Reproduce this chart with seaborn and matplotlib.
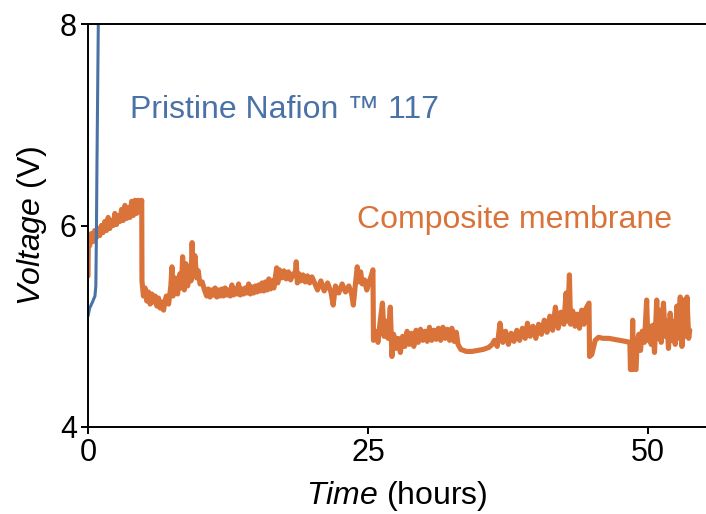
import numpy as np
import pandas as pd
import matplotlib
matplotlib.use("Agg")
import matplotlib.pyplot as plt
import seaborn as sns

# pristine membrane, fails within the first hour
blue_t = [0.0, 0.15, 0.4, 0.62, 0.7, 0.75, 0.8, 0.86, 0.92, 1.0]
blue_v = [5.10, 5.18, 5.24, 5.30, 5.40, 5.90, 6.60, 7.30, 8.00, 8.60]

# composite membrane, read segment by segment
a_t = [0.0, 0.03, 0.15, 0.3, 0.45, 0.6, 0.75, 0.9, 1.05, 1.2, 1.35, 1.5, 1.65, 1.8, 1.95, 2.1, 2.25,
       2.4, 2.55, 2.7, 2.85, 3.0, 3.15, 3.3, 3.45, 3.6, 3.75, 3.9, 4.05, 4.2, 4.35, 4.5, 4.65, 4.8]
a_v = [5.50, 5.86, 5.80, 5.92, 5.84, 5.95, 5.88, 5.97, 5.90, 6.00, 5.93, 6.04, 5.95, 6.08, 5.97, 6.05, 6.00,
       6.12, 6.01, 6.10, 6.04, 6.16, 6.05, 6.20, 6.07, 6.18, 6.08, 6.24, 6.10, 6.25, 6.12, 6.25, 6.14, 6.25]

b_t = [4.82, 4.95, 5.1, 5.25, 5.4, 5.55, 5.7, 5.85, 6.0, 6.15, 6.3, 6.45, 6.6, 6.75, 6.9]
b_v = [5.45, 5.30, 5.38, 5.25, 5.34, 5.22, 5.32, 5.24, 5.30, 5.20, 5.28, 5.18, 5.24, 5.16, 5.26]

c_t = [7.0, 7.2, 7.4, 7.5, 7.6, 7.8, 8.0, 8.2, 8.35, 8.45, 8.6, 8.75, 8.9, 9.05, 9.2, 9.3, 9.4, 9.55,
       9.7, 9.85, 10.0, 10.2, 10.4]
c_v = [5.30, 5.22, 5.40, 5.59, 5.30, 5.48, 5.32, 5.52, 5.38, 5.69, 5.36, 5.62, 5.40, 5.58, 5.45, 5.83, 5.50, 5.70,
       5.48, 5.55, 5.42, 5.44, 5.36]

d_t = [10.6, 10.75, 10.9, 11.05, 11.2, 11.35, 11.5, 11.65, 11.8, 11.95, 12.1, 12.25, 12.4, 12.55,
       12.7, 12.85, 13.0, 13.15, 13.3, 13.45, 13.6, 13.75, 13.9, 14.05, 14.2, 14.35, 14.5, 14.65,
       14.8, 14.95, 15.1, 15.25, 15.4, 15.55, 15.7, 15.85, 16.0, 16.15, 16.3, 16.45, 16.6]
d_v = [5.30, 5.37, 5.29, 5.36, 5.31, 5.38, 5.29, 5.36, 5.30, 5.37, 5.30, 5.38, 5.31, 5.36,
       5.30, 5.41, 5.31, 5.37, 5.32, 5.42, 5.31, 5.37, 5.32, 5.38, 5.33, 5.42, 5.32, 5.39,
       5.33, 5.40, 5.34, 5.41, 5.35, 5.43, 5.35, 5.44, 5.36, 5.47, 5.37, 5.45, 5.38]

e_t = [16.85, 16.95, 17.1, 17.3, 17.5, 17.7, 17.9, 18.1, 18.3, 18.5, 18.6, 18.7, 18.85, 19.0, 19.2, 19.4,
       19.6, 19.8, 20.0]
e_v = [5.58, 5.43, 5.56, 5.48, 5.55, 5.47, 5.54, 5.46, 5.52, 5.50, 5.64, 5.43, 5.52, 5.45, 5.51, 5.44,
       5.50, 5.43, 5.49]

f_t = [20.2, 20.5, 20.8, 21.1, 21.4, 21.7, 21.9, 22.1, 22.4, 22.7, 23.0, 23.3, 23.55, 23.7, 23.85, 24.05,
       24.2, 24.35, 24.5, 24.7, 24.9, 25.1, 25.3, 25.45]
f_v = [5.44, 5.36, 5.45, 5.35, 5.43, 5.34, 5.21, 5.40, 5.33, 5.42, 5.34, 5.40, 5.32, 5.21, 5.38, 5.59,
       5.44, 5.54, 5.42, 5.46, 5.36, 5.44, 5.50, 5.56]

g_t = [25.5, 25.7, 25.9, 26.1, 26.3, 26.45, 26.6, 26.8, 27.0, 27.15, 27.3, 27.5, 27.7, 27.9, 28.1, 28.3,
       28.5, 28.7, 28.9, 29.1, 29.3, 29.5, 29.7, 29.9, 30.1, 30.3, 30.5, 30.7, 30.9, 31.1, 31.3, 31.5,
       31.7, 31.9, 32.1, 32.3, 32.5, 32.7, 32.9, 33.05]
g_v = [4.86, 4.95, 4.84, 5.05, 5.23, 4.90, 5.05, 4.88, 5.19, 4.70, 4.92, 4.78, 4.88, 4.74, 4.90, 4.80,
       4.95, 4.82, 4.93, 4.80, 4.96, 4.84, 4.97, 4.86, 4.95, 4.85, 4.99, 4.86, 4.96, 4.87, 4.98, 4.86,
       4.99, 4.88, 4.97, 4.86, 4.98, 4.85, 4.94, 4.82]

h_t = [33.3, 33.8, 34.3, 34.8, 35.3, 35.8, 36.1]
h_v = [4.77, 4.75, 4.75, 4.76, 4.77, 4.79, 4.82]

i_t = [36.3, 36.55, 36.8, 37.05, 37.3, 37.55, 37.8, 38.05, 38.3, 38.55, 38.8, 39.05, 39.25, 39.5, 39.75,
       40.0, 40.25, 40.5, 40.75, 41.0, 41.25, 41.5, 41.75, 42.0, 42.25, 42.5, 42.7, 42.85, 43.0, 43.1,
       43.3, 43.5, 43.7, 43.9, 44.1, 44.3, 44.5, 44.75]
i_v = [4.86, 4.80, 5.03, 4.84, 4.95, 4.82, 4.93, 4.85, 4.96, 4.86, 4.98, 4.88, 5.03, 4.90, 5.00,
       4.88, 5.02, 4.92, 5.06, 4.94, 5.10, 4.96, 5.19, 4.98, 5.14, 5.02, 5.33, 5.05, 5.51, 5.02,
       5.15, 5.00, 5.12, 4.98, 5.16, 5.02, 5.18, 5.23]

j_t = [44.8, 45.0, 45.3, 45.6, 46.0, 46.5, 47.0, 47.5, 48.0, 48.4]
j_v = [4.70, 4.72, 4.86, 4.89, 4.88, 4.88, 4.87, 4.86, 4.85, 4.84]

k_t = [48.45, 48.6, 48.65, 48.7, 48.95, 49.05, 49.2, 49.35, 49.5, 49.7, 49.9, 50.0, 50.15, 50.3, 50.45,
       50.6, 50.8, 50.9, 51.05, 51.2, 51.4, 51.55, 51.7, 51.85, 52.0, 52.15, 52.3, 52.45, 52.6, 52.75,
       52.9, 53.05, 53.2, 53.35, 53.5, 53.65, 53.75]
k_v = [4.57, 4.57, 5.06, 4.58, 4.57, 4.85, 4.92, 4.76, 4.95, 4.84, 5.26, 4.86, 5.00, 4.82, 5.01,
       4.74, 5.26, 4.88, 5.16, 4.84, 5.23, 4.90, 5.05, 4.78, 5.13, 4.86, 5.05, 4.82, 5.20, 4.88,
       5.29, 4.80, 5.26, 4.90, 5.29, 4.88, 4.96]

orange_t = a_t + b_t + c_t + d_t + e_t + f_t + g_t + h_t + i_t + j_t + k_t
orange_v = a_v + b_v + c_v + d_v + e_v + f_v + g_v + h_v + i_v + j_v + k_v

x_ticks = [0, 25, 50]
y_ticks = [4, 6, 8]

BLUE = "#4A72A6"
ORANGE = "#D9733A"

sns.set_style("ticks")
plt.rcParams["font.family"] = ["Liberation Sans", "DejaVu Sans"]
plt.rcParams["mathtext.fontset"] = "custom"
plt.rcParams["mathtext.rm"] = "Liberation Sans"
plt.rcParams["mathtext.it"] = "Liberation Sans:italic"
plt.rcParams["text.color"] = "black"
plt.rcParams["axes.labelcolor"] = "black"

df_orange = pd.DataFrame({"Time": orange_t, "Voltage": orange_v})
df_blue = pd.DataFrame({"Time": blue_t, "Voltage": blue_v})

fig = plt.figure(figsize=(7.06, 5.14), dpi=100)
ax = fig.add_axes([88 / 706, 87 / 514, 618 / 706, 403 / 514])

sns.lineplot(data=df_orange, x="Time", y="Voltage", sort=False, estimator=None,
             color=ORANGE, linewidth=3.7, ax=ax)
sns.lineplot(data=df_blue, x="Time", y="Voltage", sort=False, estimator=None,
             color=BLUE, linewidth=2.2, ax=ax)

ax.set_xlim(0, 55.2)
ax.set_ylim(4, 8)
ax.set_xticks(x_ticks)
ax.set_yticks(y_ticks)
ax.spines["right"].set_visible(False)
for s in ["left", "bottom", "top"]:
    ax.spines[s].set_linewidth(1.4)
    ax.spines[s].set_color("black")
ax.tick_params(axis="both", length=5, width=1.4, labelsize=22, pad=3,
               colors="black", labelcolor="black")

ax.set_xlabel(r"$\it{Time}$ (hours)", fontsize=23, labelpad=8, color="black")
ax.set_ylabel(r"$\it{Voltage}$ (V)", fontsize=23, labelpad=8, color="black")

ax.text(3.75, 7.15, "Pristine Nafion \u2122 117", color=BLUE, fontsize=23,
        ha="left", va="center")
ax.text(24.0, 6.05, "Composite membrane", color=ORANGE, fontsize=23,
        ha="left", va="center")

fig.savefig("out.png", dpi=100)
